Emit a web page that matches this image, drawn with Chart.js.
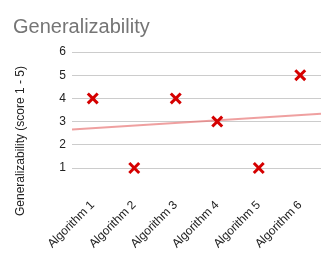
<!DOCTYPE html>
<html>
<head>
<meta charset="utf-8">
<script src="https://cdn.jsdelivr.net/npm/chart.js@4.4.1/dist/chart.umd.min.js"></script>
<style>
  html, body { margin: 0; padding: 0; background: #fff; }
  #wrap { width: 334px; height: 259px; }
</style>
</head>
<body>
<div id="wrap"><canvas id="genChart" width="334" height="259"></canvas></div>
<script>
// chart data
const algorithms = ['Algorithm 1', 'Algorithm 2', 'Algorithm 3', 'Algorithm 4', 'Algorithm 5', 'Algorithm 6'];
const scores = [4, 1, 4, 3, 1, 5];
const yTicks = [1, 2, 3, 4, 5, 6];
const yAxisTitle = 'Generalizability (score 1 - 5)';

// linear trendline (least squares) over the scores
function trendline(vals) {
  const n = vals.length;
  const xs = vals.map((v, i) => i + 1);
  const mx = xs.reduce((a, b) => a + b, 0) / n;
  const my = vals.reduce((a, b) => a + b, 0) / n;
  let sxy = 0, sxx = 0;
  xs.forEach((x, i) => { sxy += (x - mx) * (vals[i] - my); sxx += (x - mx) * (x - mx); });
  const slope = sxy / sxx;
  return [0.5, n + 0.5].map(x => ({x: x, y: my + slope * (x - mx)}));
}

// draws the y axis title off-centre like the original
const yTitlePlugin = {
  id: 'yTitle',
  afterDraw(chart) {
    const ctx = chart.ctx;
    ctx.save();
    ctx.translate(21, 141);
    ctx.rotate(-Math.PI / 2);
    ctx.font = '12px "Liberation Sans", Arial, sans-serif';
    ctx.fillStyle = '#222';
    ctx.textAlign = 'center';
    ctx.textBaseline = 'middle';
    ctx.fillText(yAxisTitle, 0, 0);
    ctx.restore();
  }
};

document.addEventListener('DOMContentLoaded', function () {
  const ctx = document.getElementById('genChart');
  new Chart(ctx, {
    type: 'scatter',
    data: {
      datasets: [{
        label: 'Scores',
        data: scores.map((v, i) => ({x: i + 1, y: v})),
        pointStyle: 'crossRot',
        pointRadius: 7,
        pointHoverRadius: 7,
        borderColor: '#d50000',
        backgroundColor: '#d50000',
        pointBorderWidth: 3,
        clip: false,
        order: 1
      }, {
        label: 'Trend',
        type: 'line',
        data: trendline(scores),
        borderColor: 'rgba(232, 120, 120, 0.7)',
        borderWidth: 2,
        pointRadius: 0,
        fill: false,
        order: 2
      }]
    },
    options: {
      responsive: false,
      animation: false,
      layout: { padding: { left: 13, right: 13, top: 0, bottom: 0 } },
      plugins: {
        legend: { display: false },
        tooltip: { enabled: false },
        title: {
          display: true,
          text: 'Generalizability',
          align: 'start',
          color: '#757575',
          font: { family: '"Liberation Sans", Arial, sans-serif', size: 20, weight: 'normal' },
          padding: { top: 15, bottom: 13 }
        }
      },
      scales: {
        x: {
          type: 'linear',
          min: 0.5,
          max: 6.5,
          afterBuildTicks: s => { s.ticks = algorithms.map((a, i) => ({value: i + 1})); },
          afterFit: s => { s.height = 91; },
          grid: { display: false },
          border: { display: false },
          ticks: {
            autoSkip: false,
            minRotation: 45,
            maxRotation: 45,
            padding: 22,
            color: '#222',
            font: { family: '"Liberation Sans", Arial, sans-serif', size: 12 },
            callback: v => algorithms[v - 1]
          }
        },
        y: {
          min: yTicks[0],
          max: yTicks[yTicks.length - 1],
          afterFit: s => { s.width = 59; },
          grid: { color: '#cccccc', lineWidth: 1, drawTicks: false },
          border: { display: false },
          ticks: {
            stepSize: 1,
            padding: 6,
            color: '#222',
            font: { family: '"Liberation Sans", Arial, sans-serif', size: 12 }
          }
        }
      }
    },
    plugins: [yTitlePlugin]
  });
});
</script>
</body>
</html>
